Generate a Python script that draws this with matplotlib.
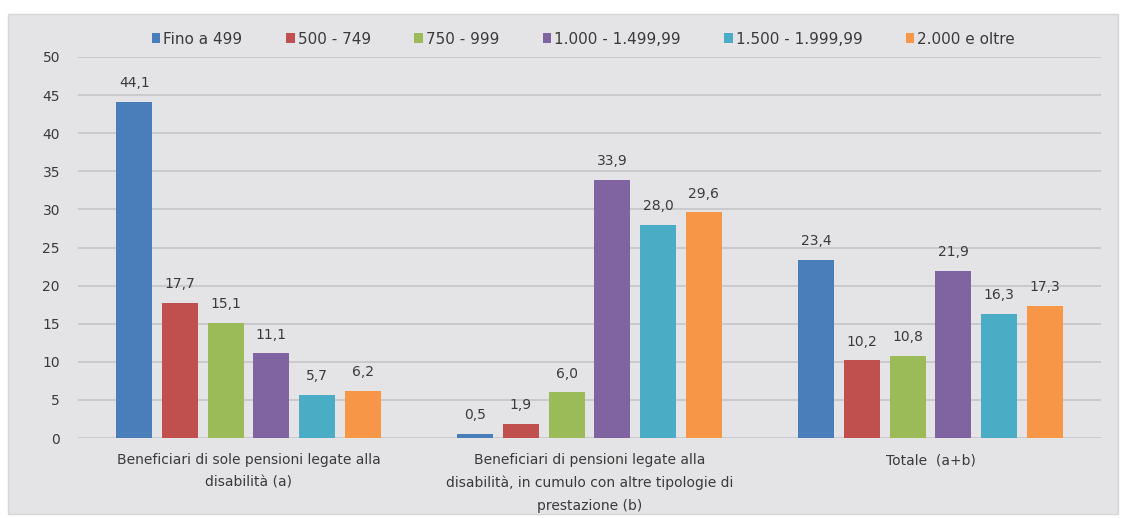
import matplotlib
matplotlib.use("Agg")
import matplotlib.pyplot as plt
import numpy as np
from matplotlib.patches import Rectangle

plt.rcParams['font.family'] = ['DejaVu Sans']

categories = [
    "Beneficiari di sole pensioni legate alla\ndisabilità (a)",
    "Beneficiari di pensioni legate alla\ndisabilità, in cumulo con altre tipologie di\nprestazione (b)",
    "Totale  (a+b)",
]
series_names = ["Fino a 499", "500 - 749", "750 - 999", "1.000 - 1.499,99",
                "1.500 - 1.999,99", "2.000 e oltre"]
fino_499 = [44.1, 0.5, 23.4]
s500_749 = [17.7, 1.9, 10.2]
s750_999 = [15.1, 6.0, 10.8]
s1000_1499 = [11.1, 33.9, 21.9]
s1500_1999 = [5.7, 28.0, 16.3]
s2000_oltre = [6.2, 29.6, 17.3]
series_values = [fino_499, s500_749, s750_999, s1000_1499, s1500_1999, s2000_oltre]
yticks = [0, 5, 10, 15, 20, 25, 30, 35, 40, 45, 50]

colors = ["#4a7ebb", "#c0504d", "#9bbb59", "#8064a2", "#4bacc6", "#f79646"]
bg = "#e4e4e7"
txt = "#3a3a3a"

fig = plt.figure(figsize=(11.23, 5.18), dpi=100)
fig.patch.set_facecolor("white")
panel = Rectangle((8/1123, 1-514/518), (1118-8)/1123, (514-14)/518,
                  transform=fig.transFigure, facecolor=bg,
                  edgecolor="#d6d6d8", lw=1, zorder=-5)
fig.add_artist(panel)

ax = fig.add_axes([78/1123, 1-438/518, (1101-78)/1123, (438-57)/518], zorder=1)
ax.set_facecolor("none")

x = np.arange(len(categories))
pitch = 0.134
width = 0.106
for i, (name, vals, c) in enumerate(zip(series_names, series_values, colors)):
    pos = x + (i - 2.5) * pitch
    ax.bar(pos, vals, width=width, color=c, label=name, zorder=3)
    for p, v in zip(pos, vals):
        ax.annotate(f"{v:.1f}".replace(".", ","), (p, v), xytext=(0, 13.5),
                    textcoords="offset points", ha="center", va="center",
                    fontsize=10, color=txt, zorder=4)

ax.set_ylim(0, 50)
ax.set_xlim(-0.5, 2.5)
ax.set_yticks(yticks)
ax.set_yticklabels([str(t) for t in yticks], fontsize=10, color=txt)
ax.set_xticks(x)
ax.set_xticklabels(categories, fontsize=10, color=txt, linespacing=1.75)
ax.tick_params(axis="both", length=0)
ax.tick_params(axis="y", pad=13)
ax.tick_params(axis="x", pad=11)
for s in ax.spines.values():
    s.set_visible(False)
ax.yaxis.grid(True, color="#c8c8cb", lw=1.3, zorder=0)
ax.set_axisbelow(True)

leg = fig.legend(loc="center left", bbox_to_anchor=(152/1123, 1-39/518), ncol=6,
                 frameon=False, fontsize=11, handlelength=0.55, handleheight=0.55,
                 handletextpad=0.2, columnspacing=2.85, borderpad=0, borderaxespad=0)
for t in leg.get_texts():
    t.set_color(txt)

fig.savefig("out.png", dpi=100, facecolor=fig.get_facecolor())
